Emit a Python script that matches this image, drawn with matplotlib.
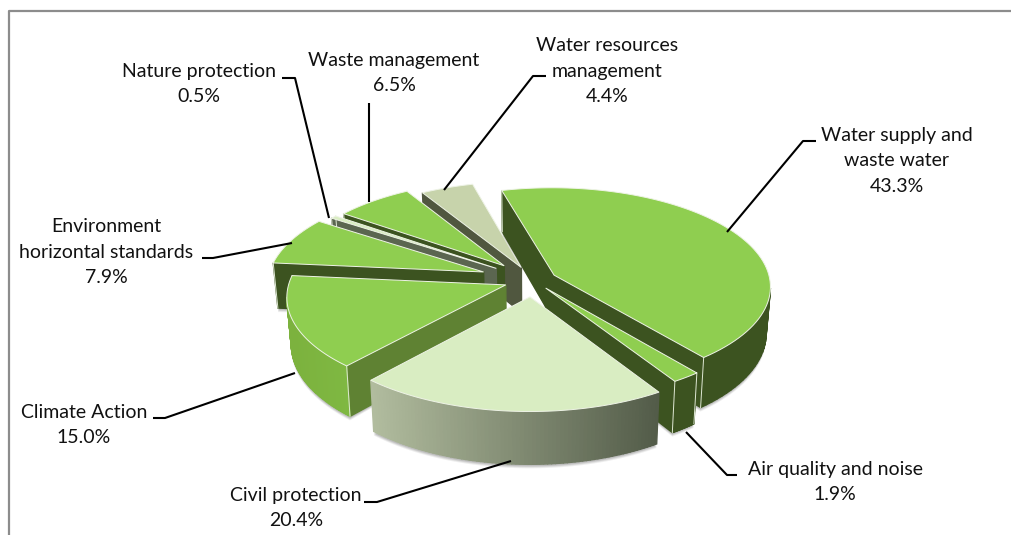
import matplotlib
matplotlib.use('Agg')
import matplotlib.pyplot as plt
import matplotlib.colors as mcolors
import numpy as np

labels = ['Water supply and\nwaste water', 'Air quality and noise', 'Civil protection', 'Climate Action',
          'Environment\nhorizontal standards', 'Nature protection', 'Waste management',
          'Water resources\nmanagement']
values = [43.3, 1.9, 20.4, 15.0, 7.9, 0.5, 6.5, 4.4]

GREEN = '#8fce50'
PALE = '#d9edc2'
DARK = '#3c5320'
explode = [0.11, 0.10, 0.17, 0.135, 0.245, 0.21, 0.20, 0.14]
top_colors = [GREEN, GREEN, PALE, GREEN, GREEN, PALE, GREEN, '#c7d3ab']
edge_colors = [DARK, DARK, '#5b6650', '#5f8233', DARK, '#5b6650', DARK, '#50573f']
arc_colors = [(DARK, DARK), (DARK, DARK), ('#b2bd9f', '#535c49'), ('#7cb23e', '#7fb842'),
              (DARK, DARK), ('#5b6650', '#5b6650'), (DARK, DARK), ('#50573f', '#50573f')]
draw_order = [7, 6, 5, 4, 3, 0, 1, 2]

# fake 3d projection, all in image pixels
CX, CY = 533, 280
A, B, K = 216, 98, 0.11
DEPTH = 46
START = -15


def project(u, v, z=0.0):
    w = 1 + K * v
    x = CX + A * u / w * (1 - 0.018 * z)
    y = CY - B * v / w + DEPTH * z / w
    return x, y


def quad(ax, p, q, c, zo):
    x1, y1 = project(*p)
    x2, y2 = project(*q)
    x3, y3 = project(q[0], q[1], 1)
    x4, y4 = project(p[0], p[1], 1)
    ax.fill([x1, x2, x3, x4], [y1, y2, y3, y4], color=c, lw=1.0, zorder=zo)


fig = plt.figure(figsize=(10.11, 5.35), dpi=100)
ax = fig.add_axes([0, 0, 1, 1])
ax.set_xlim(0, 1011)
ax.set_ylim(535, 0)
ax.axis('off')

# only the left and top of the chart border are in the picture
ax.plot([9, 9, 1011], [535, 11, 11], color='#8c8c8c', lw=1.6, zorder=1)

fractions = np.array(values) / sum(values)
ends = START + np.cumsum(fractions) * 360
starts = ends - fractions * 360

zo = 2
for i in draw_order:
    th = np.radians(np.linspace(starts[i], ends[i], 80))
    mid = np.radians((starts[i] + ends[i]) / 2)
    ou, ov = explode[i] * np.sin(mid), explode[i] * np.cos(mid)
    us, vs = ou + np.sin(th), ov + np.cos(th)
    apex = (ou, ov)

    # soft shadow under the outer wall
    sx, sy = project(us, vs, 1)
    for off, al in [(4, 0.10), (3, 0.14), (2, 0.18)]:
        ax.fill(list(sx) + [project(*apex, 1)[0]], list(sy + off) + [project(*apex, 1)[1]],
                color='#555555', alpha=al, lw=0, zorder=zo)
    zo += 1

    # side walls that face the viewer
    walls = [(apex, (us[0], vs[0])), ((us[-1], vs[-1]), apex)]
    for p, q in walls:
        if project(*q)[0] < project(*p)[0]:
            quad(ax, p, q, edge_colors[i], zo)
            zo += 1

    x_top = project(us, vs)[0]
    c0, c1 = [np.array(mcolors.to_rgb(c)) for c in arc_colors[i]]
    span = max(abs(x_top[-1] - x_top[0]), 1)
    for j in range(len(us) - 1):
        if x_top[j + 1] < x_top[j]:
            t = (x_top[j] - min(x_top[0], x_top[-1])) / span
            quad(ax, (us[j], vs[j]), (us[j + 1], vs[j + 1]), c0 + (c1 - c0) * np.clip(t, 0, 1), zo)
    zo += 1

    # thin light corner lines
    for u, v in [(us[0], vs[0]), (us[-1], vs[-1])]:
        x1, y1 = project(u, v)
        x2, y2 = project(u, v, 1)
        if i not in (2, 7):
            ax.plot([x1, x2], [y1, y2], color='#dfe8d4', lw=0.7, zorder=zo)
    zo += 1

    tx, ty = project(np.r_[ou, us], np.r_[ov, vs])
    ax.fill(tx, ty, facecolor=top_colors[i], edgecolor='#eef3e6', lw=0.7, zorder=zo)
    zo += 1

leaders = [
    ([816, 803, 727], [141, 141, 232]),
    ([737, 727, 686], [475, 475, 432]),
    ([364, 377, 511], [502, 502, 461]),
    ([153, 165, 295], [418, 418, 373]),
    ([202, 213, 292], [258, 258, 243]),
    ([282, 295, 329], [78, 78, 218]),
    ([369, 369], [103, 202]),
    ([546, 533, 444], [76, 76, 190]),
]
for lx, ly in leaders:
    ax.plot(lx, ly, color='black', lw=1.5, zorder=zo, solid_capstyle='butt')

label_pos = [(897, 161), (835, 482), (296, 508), (84, 425), (106, 252), (199, 84), (394, 73), (607, 71)]
for name, val, (x, y) in zip(labels, values, label_pos):
    ax.text(x, y, f'{name}\n{val:.1f}%', ha='center', va='center', fontsize=14,
            family='Lato', linespacing=1.62, color='#111111', zorder=zo)

fig.savefig('out.png', dpi=100)
